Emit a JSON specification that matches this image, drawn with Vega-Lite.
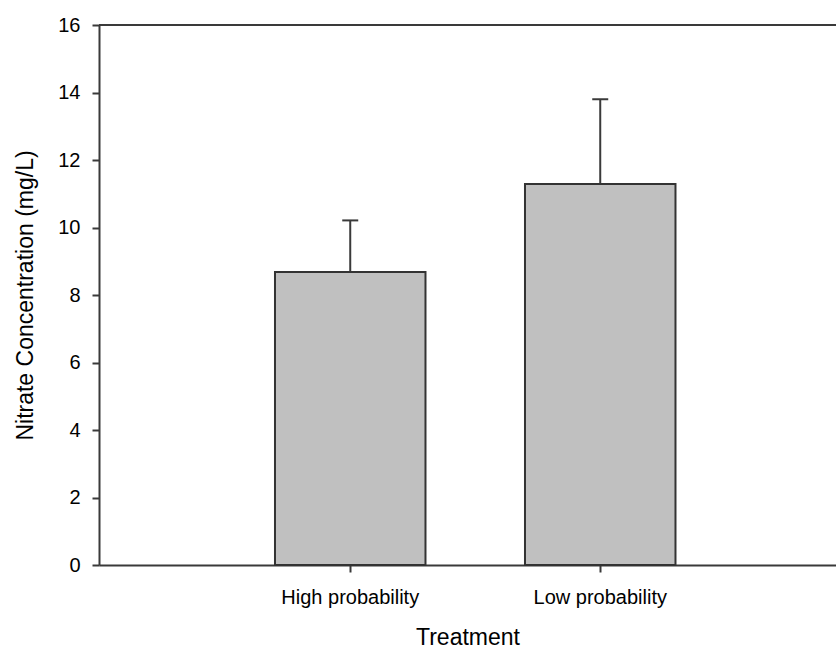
{
  "$schema": "https://vega.github.io/schema/vega-lite/v6.json",
  "width": 737,
  "height": 540,
  "autosize": {"type": "none"},
  "padding": {"left": 99, "top": 25, "right": 0, "bottom": 84},
  "background": "white",
  "config": {
    "view": {"stroke": null},
    "font": "Liberation Sans",
    "axis": {
      "grid": false,
      "domainColor": "#3a3a3a",
      "domainWidth": 2,
      "tickColor": "#3a3a3a",
      "tickWidth": 2,
      "tickSize": 7,
      "labelColor": "#000000",
      "titleColor": "#000000",
      "labelFont": "Liberation Sans",
      "titleFont": "Liberation Sans",
      "titleFontWeight": "normal",
      "labelFontSize": 20,
      "titleFontSize": 23
    }
  },
  "data": {
    "values": [
      {"Treatment": "High probability", "mean": 8.68, "upper": 10.21},
      {"Treatment": "Low probability", "mean": 11.29, "upper": 13.8}
    ]
  },
  "encoding": {
    "x": {
      "field": "Treatment",
      "type": "nominal",
      "sort": null,
      "scale": {"paddingInner": 0.398, "paddingOuter": 0.673, "align": 0.523},
      "axis": {
        "title": "Treatment",
        "labelAngle": 0,
        "labelAlign": "center",
        "labelBaseline": "top",
        "ticks": true,
        "labelPadding": 15,
        "titlePadding": 19
      }
    }
  },
  "layer": [
    {
      "mark": {"type": "rule", "color": "#3a3a3a", "strokeWidth": 2},
      "encoding": {"x": null, "y": {"datum": 16, "type": "quantitative"}}
    },
    {
      "mark": {"type": "rule", "color": "#3a3a3a", "strokeWidth": 2},
      "encoding": {
        "y": {"field": "mean", "type": "quantitative"},
        "y2": {"field": "upper"}
      }
    },
    {
      "mark": {"type": "tick", "color": "#3a3a3a", "thickness": 2, "size": 16, "orient": "horizontal", "opacity": 1},
      "encoding": {
        "y": {"field": "upper", "type": "quantitative"}
      }
    },
    {
      "mark": {"type": "bar", "fill": "#c0c0c0", "stroke": "#333333", "strokeWidth": 2},
      "encoding": {
        "y": {
          "field": "mean",
          "type": "quantitative",
          "scale": {"domain": [0, 16], "nice": false},
          "axis": {
            "title": "Nitrate Concentration (mg/L)",
            "values": [0, 2, 4, 6, 8, 10, 12, 14, 16],
            "labelPadding": 12,
            "titlePadding": 20
          }
        }
      }
    }
  ]
}
